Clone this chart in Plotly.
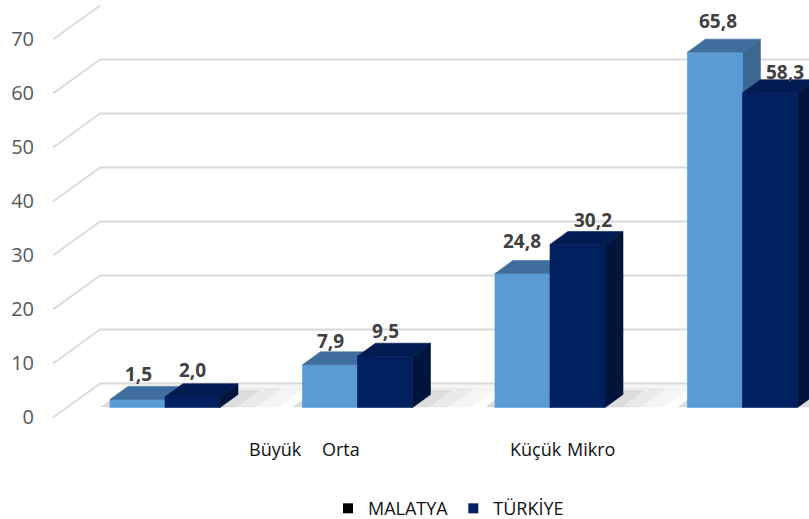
import plotly.graph_objects as go

# ---------------- data ----------------
CATEGORIES = ["Büyük", "Orta", "Küçük", "Mikro"]
SERIES = ["MALATYA", "TÜRKİYE"]
MALATYA = [1.5, 7.9, 24.8, 65.8]
TURKIYE = [2.0, 9.5, 30.2, 58.3]
Y_TICKS = [0, 10, 20, 30, 40, 50, 60, 70]

# ---------------- style ----------------
FRONT = ["#5B9BD5", "#002060"]
TOP = ["#3F6E9C", "#001B52"]
SIDE = ["#3A6891", "#00143C"]
LEGEND_SWATCH = ["#000000", "#002060"]
GRID = "#D9D9D9"
FONT = "Open Sans"

BAR_W = 0.286          # bar width in category units
DX, DY = 0.2442, 6.296  # full-depth offset in axis units
Z0, Z1 = 0.294, 0.676   # bar front / back depth
WALL_X = -0.510         # left wall x (front plane)
X_RANGE = [-0.5777, 3.4174]
Y_RANGE = [-18.80, 77.31]

# per-label shifts (px) to match the picture
LBL_SHIFT = {
    0: [(1, -3), (1, -4), (0, 5), (3, 3)],
    1: [(0, -1), (0, -3), (15, -4), (15, -7)],
}
CAT_LABEL_X = [0.647, 0.986, 2.0, 2.286]
CAT_LABEL_Y = -5.9


def P(x, v, z):
    return x + z * DX, v + z * DY


def poly(pts, color, name):
    xs = [p[0] for p in pts] + [pts[0][0]]
    ys = [p[1] for p in pts] + [pts[0][1]]
    return go.Scatter(x=xs, y=ys, mode="lines", fill="toself",
                      fillcolor=color, line=dict(color=color, width=0.6),
                      hoverinfo="skip", showlegend=False, name=name)


fig = go.Figure()

# gridlines: left-wall diagonals and back-wall horizontals
gx, gy = [], []
for t in Y_TICKS:
    a = P(WALL_X, t, 0)
    b = P(WALL_X, t, 1)
    gx += [a[0], b[0], None]
    gy += [a[1], b[1], None]
    if t < 70:
        gx += [b[0], X_RANGE[1] + 1, None]
        gy += [b[1], b[1], None]
fig.add_trace(go.Scatter(x=gx, y=gy, mode="lines",
                         line=dict(color=GRID, width=1.8),
                         hoverinfo="skip", showlegend=False))

# floor shadows
for i in range(len(CATEGORIES)):
    xa = i - BAR_W
    xb = i + BAR_W
    for op, ext, zb in [(0.07, 0.30, 0.95), (0.08, 0.18, 0.85), (0.10, 0.08, 0.78)]:
        pts = [P(xa - 0.05, 0, Z0 + 0.02), P(xb + ext, 0, Z0 + 0.02),
               P(xb + ext, 0, zb), P(xa - 0.05, 0, zb)]
        fig.add_trace(poly(pts, f"rgba(110,110,110,{op})", "shadow"))

annotations = []
for i, cat in enumerate(CATEGORIES):
    for s, vals in enumerate([MALATYA, TURKIYE]):
        v = vals[i]
        x0 = i - BAR_W + s * BAR_W
        x1 = x0 + BAR_W
        front = [P(x0, 0, Z0), P(x1, 0, Z0), P(x1, v, Z0), P(x0, v, Z0)]
        top = [P(x0, v, Z0), P(x1, v, Z0), P(x1, v, Z1), P(x0, v, Z1)]
        side = [P(x1, 0, Z0), P(x1, 0, Z1), P(x1, v, Z1), P(x1, v, Z0)]
        fig.add_trace(poly(side, SIDE[s], SERIES[s]))
        fig.add_trace(poly(front, FRONT[s], SERIES[s]))
        fig.add_trace(poly(top, TOP[s], SERIES[s]))
        lx, _ = P((x0 + x1) / 2, v, Z0)
        _, ly = P((x0 + x1) / 2, v, Z1)
        sx, sy = LBL_SHIFT[s][i]
        annotations.append(dict(
            x=lx, y=ly, xref="x", yref="y", text=f"{v:.1f}".replace(".", ","),
            showarrow=False, xanchor="center", yanchor="bottom",
            xshift=sx, yshift=sy,
            font=dict(family=FONT, size=19, color="#404040", weight="bold")))
    annotations.append(dict(
        x=CAT_LABEL_X[i], y=CAT_LABEL_Y, xref="x", yref="y", text=cat,
        showarrow=False, xanchor="center", yanchor="middle",
        font=dict(family=FONT, size=18, color="#111111")))

# legend entries
for s, name in enumerate(SERIES):
    fig.add_trace(go.Scatter(x=[None], y=[None], mode="markers", name=name,
                             marker=dict(symbol="square", size=10,
                                         color=LEGEND_SWATCH[s])))

fig.update_layout(
    width=809, height=519,
    margin=dict(l=40, r=0, t=0, b=0, autoexpand=False),
    paper_bgcolor="white", plot_bgcolor="white",
    xaxis=dict(range=X_RANGE, visible=False, fixedrange=True),
    yaxis=dict(range=Y_RANGE, tickvals=Y_TICKS, showgrid=False,
               zeroline=False, showline=False, ticks="", automargin=False,
               tickfont=dict(family=FONT, size=20, color="#595959"),
               ticklabelstandoff=5, fixedrange=True),
    legend=dict(orientation="h", xref="container", yref="paper",
                x=328 / 809, xanchor="left", y=0.02, yanchor="middle",
                font=dict(family=FONT, size=18, color="#111111"),
                itemwidth=30, bgcolor="rgba(0,0,0,0)"),
    annotations=annotations,
    showlegend=True,
)

fig.write_html(
    "out.html",
    config={"displayModeBar": False},
    post_script="document.body.style.margin='0';document.body.style.overflow='hidden';",
)
